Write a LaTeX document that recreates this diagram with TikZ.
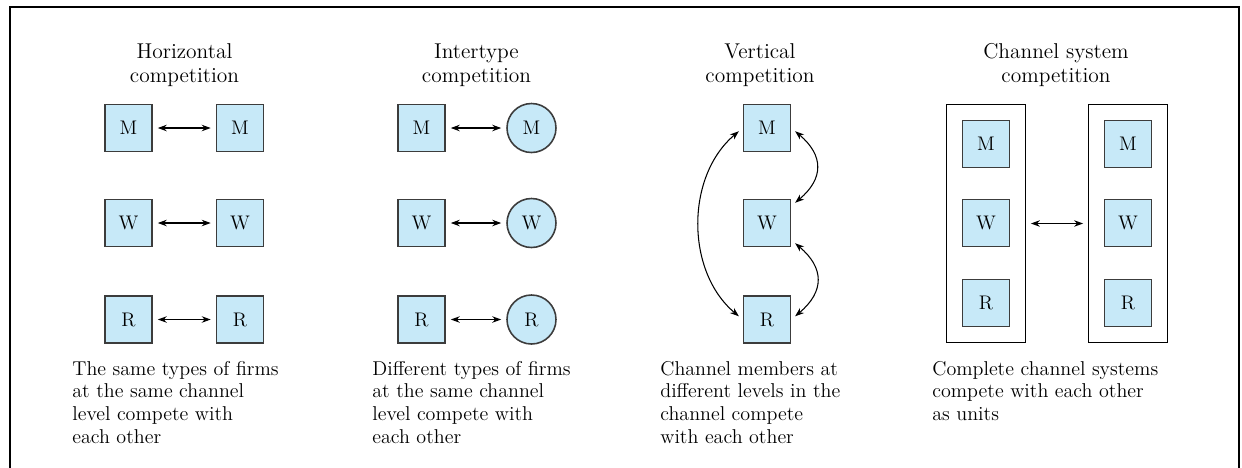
\documentclass[tikz,border=0pt]{standalone}
\usepackage{tikz}
\usetikzlibrary{arrows.meta, positioning, fit}

\definecolor{unitblue}{RGB}{199,233,248}
\definecolor{unitline}{RGB}{60,60,60}

\begin{document}
\begin{tikzpicture}[
    arr/.style={{Stealth[length=1.8mm, width=1.3mm]}-{Stealth[length=1.8mm, width=1.3mm]}, line width=0.6pt, shorten <=0.1cm, shorten >=0.1cm},
    unit/.style={rectangle, draw=unitline, line width=0.9pt, fill=unitblue, minimum size=0.94cm, inner sep=0pt, font=\fontsize{11.2}{13}\selectfont},
    other/.style={circle, draw=unitline, line width=0.9pt, fill=unitblue, minimum size=0.98cm, inner sep=0pt, font=\fontsize{11.2}{13}\selectfont},
    system/.style={rectangle, draw, line width=0.7pt, inner sep=0.3cm},
    title/.style={font=\fontsize{12.2}{13.1}\selectfont, align=center, anchor=base},
    note/.style={font=\fontsize{11.4}{12.9}\selectfont, align=left, anchor=base west, inner sep=0pt},
]
\useasboundingbox (0,0) rectangle (24.84,-9.34);

% Frame (bottom edge is cut off)
\draw[line width=1.1pt] (0.2,-9.5) -- (0.2,-0.14) -- (24.78,-0.14) -- (24.78,-9.5);

% --- Horizontal ---
\node[title] (ht) at (3.69,-1.64) {Horizontal\\competition};
\node[unit] (hM1) at (2.57,-2.56) {M};
\node[unit] (hM2) at (4.80,-2.56) {M};
\node[unit] (hW1) at (2.57,-4.46) {W};
\node[unit] (hW2) at (4.80,-4.46) {W};
\node[unit] (hR1) at (2.57,-6.39) {R};
\node[unit] (hR2) at (4.80,-6.39) {R};
\draw[arr] (hM1) -- (hM2);
\draw[arr] (hW1) -- (hW2);
\draw[arr] (hR1) -- (hR2);
\node[note] (hn) at (1.44,-8.86) {The same types of firms\\at the same channel\\level compete with\\each other};

% --- Intertype ---
\node[title] (it) at (9.53,-1.64) {Intertype\\competition};
\node[unit] (iM1) at (8.43,-2.56) {M};
\node[other] (iM2) at (10.63,-2.56) {M};
\node[unit] (iW1) at (8.43,-4.46) {W};
\node[other] (iW2) at (10.63,-4.46) {W};
\node[unit] (iR1) at (8.43,-6.39) {R};
\node[other] (iR2) at (10.63,-6.39) {R};
\draw[arr] (iM1) -- (iM2);
\draw[arr] (iW1) -- (iW2);
\draw[arr] (iR1) -- (iR2);
\node[note] (in) at (7.44,-8.86) {Different types of firms\\at the same channel\\level compete with\\each other};

% --- Vertical ---
\node[title] (vt) at (15.2,-1.64) {Vertical\\competition};
\node[unit] (vM) at (15.34,-2.56) {M};
\node[unit] (vW) at (15.34,-4.46) {W};
\node[unit] (vR) at (15.34,-6.39) {R};
\draw[arr] (vM.west) to[bend right=50] (vR.west);
\draw[arr] (vM.east) to[out=-40, in=40, looseness=1.4] (vW.35);
\draw[arr] (vW.-35) to[out=-40, in=40, looseness=1.4] (vR.east);
\node[note] (vn) at (13.2,-8.86) {Channel members at\\different levels in the\\channel compete\\with each other};

% --- Channel system ---
\node[title] (ct) at (21.12,-1.64) {Channel system\\competition};
\node[unit] (cM1) at (19.72,-2.88) {M};
\node[unit] (cW1) at (19.72,-4.46) {W};
\node[unit] (cR1) at (19.72,-6.06) {R};
\node[unit] (cM2) at (22.56,-2.88) {M};
\node[unit] (cW2) at (22.56,-4.46) {W};
\node[unit] (cR2) at (22.56,-6.06) {R};
\node[system, fit=(cM1)(cR1)] (cs1) {};
\node[system, fit=(cM2)(cR2)] (cs2) {};
\draw[arr] (cs1) -- (cs2);
\node[note] (cn) at (18.64,-8.41) {Complete channel systems\\compete with each other\\as units};

\end{tikzpicture}
\end{document}
